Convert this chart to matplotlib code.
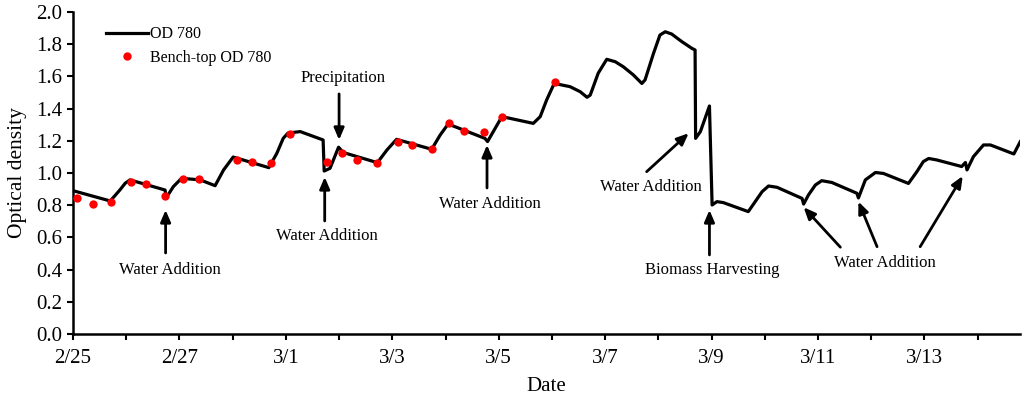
import numpy as np
import matplotlib.pyplot as plt

plt.rcParams['font.family'] = ['Liberation Serif', 'DejaVu Serif']

# OD 780 continuous trace (days since 2/25, optical density)
od_day = [0.00, 0.70, 0.88, 0.98, 1.07, 1.73, 1.75, 1.885, 2.04, 2.39, 2.67, 2.83,
          3.01, 3.68, 3.83, 3.95, 4.04, 4.27, 4.70, 4.72, 4.83, 4.99, 5.08, 5.72,
          5.90, 6.08, 6.74, 6.90, 7.05, 7.74, 7.79, 8.06, 8.65, 8.78, 8.90, 9.03,
          9.09, 9.34, 9.53, 9.66, 9.72, 9.87, 10.03, 10.19, 10.34, 10.53, 10.69,
          10.75, 10.91, 11.03, 11.13, 11.25, 11.44, 11.63, 11.69, 11.70, 11.79,
          11.96, 12.01, 12.10, 12.22, 12.69, 12.82, 12.95, 13.07, 13.23, 13.70,
          13.73, 13.82, 13.95, 14.07, 14.26, 14.73, 14.76, 14.89, 15.08, 15.23,
          15.70, 15.86, 15.98, 16.08, 16.23, 16.70, 16.77, 16.80, 16.92, 17.11,
          17.24, 17.68, 17.80]
od_val = [0.89, 0.826, 0.894, 0.936, 0.957, 0.894, 0.845, 0.915, 0.967, 0.957, 0.921, 1.019,
          1.099, 1.033, 1.122, 1.215, 1.248, 1.257, 1.205, 1.012, 1.029, 1.16, 1.127, 1.064,
          1.143, 1.209, 1.147, 1.236, 1.304, 1.215, 1.195, 1.35, 1.308, 1.35, 1.453, 1.547,
          1.553, 1.536, 1.505, 1.47, 1.484, 1.62, 1.706, 1.691, 1.66, 1.609, 1.556,
          1.578, 1.744, 1.857, 1.877, 1.863, 1.816, 1.774, 1.764, 1.215, 1.257,
          1.416, 0.801, 0.822, 0.816, 0.76, 0.822, 0.884, 0.919, 0.911, 0.842,
          0.807, 0.863, 0.925, 0.952, 0.941, 0.874, 0.845, 0.957, 1.003, 0.997,
          0.935, 1.009, 1.071, 1.09, 1.081, 1.04, 1.065, 1.019, 1.101, 1.174,
          1.174, 1.118, 1.194]

# bench-top samples
bench_day = [0.07, 0.37, 0.71, 1.09, 1.37, 1.73, 2.06, 2.37, 3.08, 3.36, 3.72, 4.07,
             4.77, 5.06, 5.34, 5.72, 6.10, 6.37, 6.74, 7.07, 7.35, 7.73, 8.07, 9.06]
bench_val = [0.843, 0.807, 0.822, 0.944, 0.93, 0.857, 0.963, 0.963, 1.079, 1.066, 1.064, 1.24,
             1.071, 1.122, 1.081, 1.064, 1.193, 1.174, 1.147, 1.309, 1.261, 1.255, 1.35, 1.562]

tick_days = [0, 2, 4, 6, 8, 10, 12, 14, 16]
tick_labels = ['2/25', '2/27', '3/1', '3/3', '3/5', '3/7', '3/9', '3/11', '3/13']

fig = plt.figure(figsize=(10.24, 3.99), dpi=100)
ax = fig.add_axes([0.0713, 0.163, 0.925, 0.807])

ax.plot(od_day, od_val, color='black', lw=2.3, label='OD 780', zorder=2,
        solid_joinstyle='round')
ax.plot(bench_day, bench_val, 'o', color='#ff0000', ms=6, mec='none',
        label='Bench-top OD 780', zorder=3)

ax.set_xlim(0, 17.8)
ax.set_ylim(0, 2.0)
ax.set_yticks(np.arange(0, 2.01, 0.2))
ax.set_yticklabels([f'{v:.1f}' for v in np.arange(0, 2.01, 0.2)])
ax.set_xticks(tick_days)
ax.set_xticklabels(tick_labels)
ax.set_xticks(np.arange(1, 18, 2), minor=True)
ax.tick_params(axis='both', which='both', direction='out', length=4.5, width=1.5,
               labelsize=15)
ax.tick_params(axis='x', which='major', pad=6)
ax.tick_params(axis='y', which='major', pad=3)

for s in ['top', 'right']:
    ax.spines[s].set_visible(False)
for s in ['left', 'bottom']:
    ax.spines[s].set_linewidth(1.8)

ax.set_xlabel('Date', fontsize=15, labelpad=7)
ax.set_ylabel('Optical density', fontsize=15.5, labelpad=7)

ax.legend(loc='upper left', bbox_to_anchor=(0.02, 1.0), frameon=False,
          fontsize=11.5, handlelength=2.6, handletextpad=0.15, labelspacing=0.45)

arrow = dict(arrowstyle='-|>,head_length=0.7,head_width=0.3', color='black',
             lw=2, shrinkA=0, shrinkB=0)
fs = 12

# (tail, tip) pairs in data coordinates
ax.annotate('', xy=(1.74, 0.77), xytext=(1.74, 0.503), arrowprops=arrow)
ax.text(1.82, 0.398, 'Water Addition', ha='center', va='center', fontsize=fs)

ax.annotate('', xy=(4.73, 0.975), xytext=(4.73, 0.702), arrowprops=arrow)
ax.text(4.77, 0.609, 'Water Addition', ha='center', va='center', fontsize=fs)

ax.annotate('', xy=(5.00, 1.205), xytext=(5.00, 1.491), arrowprops=arrow)
ax.text(5.08, 1.59, 'Precipitation', ha='center', va='center', fontsize=fs)

ax.annotate('', xy=(7.78, 1.174), xytext=(7.78, 0.907), arrowprops=arrow)
ax.text(7.84, 0.807, 'Water Addition', ha='center', va='center', fontsize=fs)

ax.annotate('', xy=(11.57, 1.247), xytext=(10.78, 1.008), arrowprops=arrow)
ax.text(10.85, 0.915, 'Water Addition', ha='center', va='center', fontsize=fs)

ax.annotate('', xy=(11.96, 0.77), xytext=(11.96, 0.491), arrowprops=arrow)
ax.text(12.01, 0.398, 'Biomass Harvesting', ha='center', va='center', fontsize=fs)

ax.annotate('', xy=(13.73, 0.787), xytext=(14.42, 0.539), arrowprops=arrow)
ax.annotate('', xy=(14.76, 0.822), xytext=(15.11, 0.542), arrowprops=arrow)
ax.annotate('', xy=(16.72, 0.981), xytext=(15.92, 0.542), arrowprops=arrow)
ax.text(15.26, 0.439, 'Water Addition', ha='center', va='center', fontsize=fs)

fig.savefig('out.png', dpi=100)
